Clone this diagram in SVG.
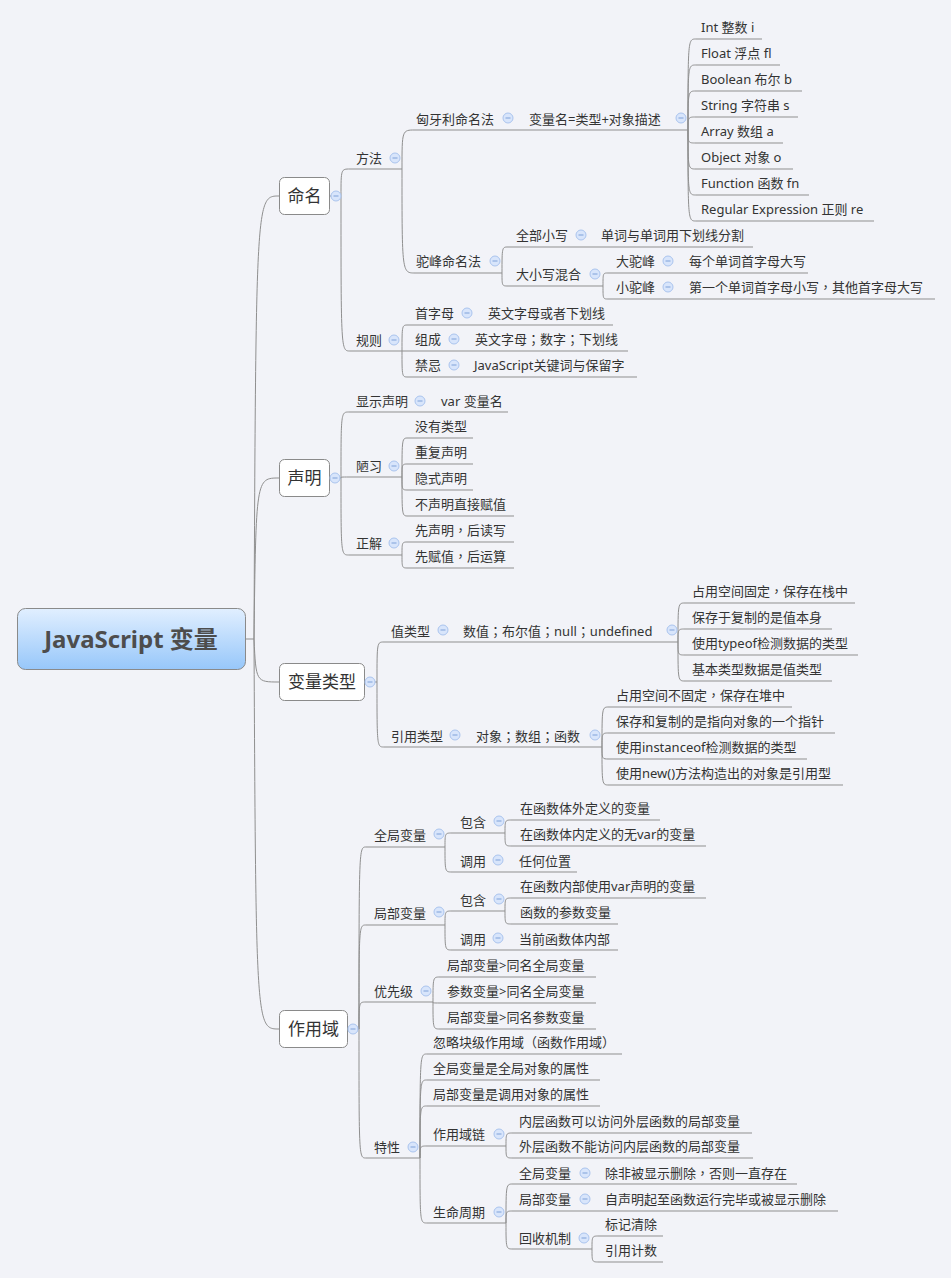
<svg xmlns="http://www.w3.org/2000/svg" width="951" height="1278" viewBox="0 0 951 1278">
<defs>
<linearGradient id="rg" x1="0" y1="0" x2="0" y2="1"><stop offset="0" stop-color="#e1efff"/><stop offset="1" stop-color="#97c7fa"/></linearGradient>
<g id="ic"><circle r="5" fill="#d8e5fb" stroke="#aac4ee" stroke-width="1"/><line x1="-2.5" y1="0" x2="2.5" y2="0" stroke="#7ea1d8" stroke-width="1"/></g>
</defs>
<style>
text{font-family:"Noto Sans","Noto Sans CJK SC",sans-serif;font-size:13px;fill:#333}
.p{font-family:"Noto Sans CJK TC",sans-serif}
.m{font-size:17px;text-anchor:middle}
.r{font-size:24px;font-weight:bold;fill:#4d4d4d;text-anchor:middle}
.u,.c path{stroke:#8f8f8f;stroke-width:1;fill:none}
.b{fill:#fff;stroke:#8a8a8a;stroke-width:1}
</style>
<rect width="951" height="1278" fill="#f2f3f8"/>
<g id="connectors" class="c">
<path d="M246 639H254C256 196 256 196 279 196"/>
<path d="M254 639C256 478 256 478 279 478"/>
<path d="M254 639C256 682 256 682 279 682"/>
<path d="M254 639C256 1029 256 1029 279 1029"/>
<path d="M329 196H341"/>
<path d="M341 196C341 169 341 169 350 169"/>
<path d="M341 196C341 351 341 351 350 351"/>
<path d="M402 169C402 130 402 130 415 130"/>
<path d="M402 169C402 273 402 273 415 273"/>
<path d="M688 130C688 39 688 39 696 39"/>
<path d="M688 130C688 65 688 65 696 65"/>
<path d="M688 130C688 91 688 91 696 91"/>
<path d="M688 130C688 117 688 117 696 117"/>
<path d="M688 130C688 143 688 143 696 143"/>
<path d="M688 130C688 169 688 169 696 169"/>
<path d="M688 130C688 195 688 195 696 195"/>
<path d="M688 130C688 221 688 221 696 221"/>
<path d="M502 273C502 247 502 247 508 247"/>
<path d="M502 273C502 286 502 286 508 286"/>
<path d="M603 286C603 273 603 273 608 273"/>
<path d="M603 286C603 299 603 299 608 299"/>
<path d="M402 351C402 325 402 325 408 325"/>
<path d="M402 351H408"/>
<path d="M402 351C402 377 402 377 408 377"/>
<path d="M329 478H341"/>
<path d="M341 478C341 412 341 412 349 412"/>
<path d="M341 478C341 477 341 477 349 477"/>
<path d="M341 478C341 555 341 555 349 555"/>
<path d="M402 477C402 438 402 438 408 438"/>
<path d="M402 477C402 464 402 464 408 464"/>
<path d="M402 477C402 490 402 490 408 490"/>
<path d="M402 477C402 516 402 516 408 516"/>
<path d="M402 555C402 542 402 542 408 542"/>
<path d="M402 555C402 568 402 568 408 568"/>
<path d="M364 682H377"/>
<path d="M377 682C377 642 377 642 384 642"/>
<path d="M377 682C377 747 377 747 384 747"/>
<path d="M678 642C678 603 678 603 685 603"/>
<path d="M678 642C678 629 678 629 685 629"/>
<path d="M678 642C678 655 678 655 685 655"/>
<path d="M678 642C678 681 678 681 685 681"/>
<path d="M602 747C602 707 602 707 609 707"/>
<path d="M602 747C602 733 602 733 609 733"/>
<path d="M602 747C602 759 602 759 609 759"/>
<path d="M602 747C602 785 602 785 609 785"/>
<path d="M347 1029H359"/>
<path d="M359 1029C359 847 359 847 366 847"/>
<path d="M359 1029C359 925 359 925 366 925"/>
<path d="M359 1029C359 1002 359 1002 366 1002"/>
<path d="M359 1029C359 1158 359 1158 366 1158"/>
<path d="M445 847C445 833 445 833 452 833"/>
<path d="M445 847C445 872 445 872 452 872"/>
<path d="M505 833C505 820 505 820 512 820"/>
<path d="M505 833C505 846 505 846 512 846"/>
<path d="M445 925C445 911 445 911 452 911"/>
<path d="M445 925C445 950 445 950 452 950"/>
<path d="M505 911C505 898 505 898 512 898"/>
<path d="M505 911C505 924 505 924 512 924"/>
<path d="M433 1002C433 977 433 977 440 977"/>
<path d="M433 1002C433 1003 433 1003 440 1003"/>
<path d="M433 1002C433 1029 433 1029 440 1029"/>
<path d="M420 1158C420 1054 420 1054 427 1054"/>
<path d="M420 1158C420 1080 420 1080 427 1080"/>
<path d="M420 1158C420 1106 420 1106 427 1106"/>
<path d="M420 1158C420 1146 420 1146 427 1146"/>
<path d="M420 1158C420 1223 420 1223 427 1223"/>
<path d="M506 1146C506 1133 506 1133 513 1133"/>
<path d="M506 1146C506 1158 506 1158 513 1158"/>
<path d="M506 1223C506 1184 506 1184 513 1184"/>
<path d="M506 1223C506 1211 506 1211 513 1211"/>
<path d="M506 1223C506 1249 506 1249 513 1249"/>
<path d="M592 1249C592 1236 592 1236 599 1236"/>
<path d="M592 1249C592 1262 592 1262 599 1262"/>
</g>

<g id="n-root"><rect x="17.5" y="608.5" width="228" height="61" rx="8" fill="url(#rg)" stroke="#8a8a8a"/><text class="r" x="131" y="648">JavaScript 变量</text></g>

<g id="n-naming"><rect class="b" x="279.5" y="177.5" width="50" height="37" rx="5"/><text class="m" x="304.5" y="202">命名</text><use href="#ic" x="336" y="196"/></g>
<g id="n-method"><path class="u" d="M350 169H402"/><text x="356" y="163">方法</text><use href="#ic" x="395" y="158"/></g>
<g id="n-hungarian"><path class="u" d="M415 130H520"/><text x="416" y="124">匈牙利命名法</text><use href="#ic" x="508" y="118"/></g>
<g id="n-hung-rule"><path class="u" d="M520 130H688"/><text x="529" y="124">变量名=类型+对象描述</text><use href="#ic" x="681" y="118"/></g>
<g id="n-int"><path class="u" d="M696 39H762"/><text x="701" y="32">Int 整数 i</text></g>
<g id="n-float"><path class="u" d="M696 65H780"/><text x="701" y="58">Float 浮点 fl</text></g>
<g id="n-bool"><path class="u" d="M696 91H802"/><text x="701" y="84">Boolean 布尔 b</text></g>
<g id="n-string"><path class="u" d="M696 117H798"/><text x="701" y="110">String 字符串 s</text></g>
<g id="n-array"><path class="u" d="M696 143H783"/><text x="701" y="136">Array 数组 a</text></g>
<g id="n-object"><path class="u" d="M696 169H793"/><text x="701" y="162">Object 对象 o</text></g>
<g id="n-function"><path class="u" d="M696 195H809"/><text x="701" y="188">Function 函数 fn</text></g>
<g id="n-regexp"><path class="u" d="M696 221H874"/><text x="701" y="214">Regular Expression 正则 re</text></g>
<g id="n-camel"><path class="u" d="M415 273H502"/><text x="416" y="266">驼峰命名法</text><use href="#ic" x="495" y="261"/></g>
<g id="n-lower"><path class="u" d="M508 247H593"/><text x="516" y="240">全部小写</text><use href="#ic" x="581" y="235"/></g>
<g id="n-lower-d"><path class="u" d="M593 247H753"/><text x="601" y="240">单词与单词用下划线分割</text></g>
<g id="n-mixed"><path class="u" d="M508 286H603"/><text x="516" y="279">大小写混合</text><use href="#ic" x="595" y="274"/></g>
<g id="n-big"><path class="u" d="M608 273H680"/><text x="616" y="266">大驼峰</text><use href="#ic" x="668" y="261"/></g>
<g id="n-big-d"><path class="u" d="M680 273H808"/><text x="689" y="266">每个单词首字母大写</text></g>
<g id="n-small"><path class="u" d="M608 299H680"/><text x="616" y="292">小驼峰</text><use href="#ic" x="668" y="287"/></g>
<g id="n-small-d"><path class="u" d="M680 299H935"/><text x="689" y="292">第一个单词首字母小写<tspan class="p">，</tspan>其他首字母大写</text></g>
<g id="n-rules"><path class="u" d="M350 351H402"/><text x="356" y="345">规则</text><use href="#ic" x="394" y="340"/></g>
<g id="n-first"><path class="u" d="M408 325H479"/><text x="415" y="318">首字母</text><use href="#ic" x="467" y="313"/></g>
<g id="n-first-d"><path class="u" d="M479 325H613"/><text x="488" y="318">英文字母或者下划线</text></g>
<g id="n-compose"><path class="u" d="M408 351H466"/><text x="415" y="344">组成</text><use href="#ic" x="454" y="339"/></g>
<g id="n-compose-d"><path class="u" d="M466 351H628"/><text x="475" y="344">英文字母<tspan class="p">；</tspan>数字<tspan class="p">；</tspan>下划线</text></g>
<g id="n-taboo"><path class="u" d="M408 377H466"/><text x="415" y="370">禁忌</text><use href="#ic" x="454" y="365"/></g>
<g id="n-taboo-d"><path class="u" d="M466 377H637"/><text x="474" y="370">JavaScript关键词与保留字</text></g>

<g id="n-declare"><rect class="b" x="279.5" y="459.5" width="50" height="37" rx="5"/><text class="m" x="304.5" y="484">声明</text><use href="#ic" x="335" y="478"/></g>
<g id="n-explicit"><path class="u" d="M349 412H432"/><text x="356" y="406">显示声明</text><use href="#ic" x="420" y="401"/></g>
<g id="n-explicit-d"><path class="u" d="M432 412H508"/><text x="441" y="406">var 变量名</text></g>
<g id="n-bad"><path class="u" d="M349 477H402"/><text x="356" y="471">陋习</text><use href="#ic" x="394" y="466"/></g>
<g id="n-bad1"><path class="u" d="M408 438H473"/><text x="415" y="431">没有类型</text></g>
<g id="n-bad2"><path class="u" d="M408 464H473"/><text x="415" y="457">重复声明</text></g>
<g id="n-bad3"><path class="u" d="M408 490H473"/><text x="415" y="483">隐式声明</text></g>
<g id="n-bad4"><path class="u" d="M408 516H514"/><text x="415" y="509">不声明直接赋值</text></g>
<g id="n-good"><path class="u" d="M349 555H402"/><text x="356" y="548">正解</text><use href="#ic" x="394" y="543"/></g>
<g id="n-good1"><path class="u" d="M408 542H514"/><text x="415" y="535">先声明<tspan class="p">，</tspan>后读写</text></g>
<g id="n-good2"><path class="u" d="M408 568H514"/><text x="415" y="561">先赋值<tspan class="p">，</tspan>后运算</text></g>

<g id="n-types"><rect class="b" x="279.5" y="663.5" width="85" height="37" rx="5"/><text class="m" x="322" y="688">变量类型</text><use href="#ic" x="370" y="682"/></g>
<g id="n-value"><path class="u" d="M384 642H455"/><text x="391" y="636">值类型</text><use href="#ic" x="443" y="630"/></g>
<g id="n-value-d"><path class="u" d="M455 642H678"/><text x="463" y="636">数值<tspan class="p">；</tspan>布尔值<tspan class="p">；</tspan>null<tspan class="p">；</tspan>undefined</text><use href="#ic" x="672" y="630"/></g>
<g id="n-v1"><path class="u" d="M685 603H855"/><text x="692" y="596">占用空间固定<tspan class="p">，</tspan>保存在栈中</text></g>
<g id="n-v2"><path class="u" d="M685 629H832"/><text x="692" y="622">保存于复制的是值本身</text></g>
<g id="n-v3"><path class="u" d="M685 655H858"/><text x="692" y="648">使用typeof检测数据的类型</text></g>
<g id="n-v4"><path class="u" d="M685 681H832"/><text x="692" y="674">基本类型数据是值类型</text></g>
<g id="n-ref"><path class="u" d="M384 747H467"/><text x="391" y="741">引用类型</text><use href="#ic" x="455" y="735"/></g>
<g id="n-ref-d"><path class="u" d="M467 747H602"/><text x="476" y="741">对象<tspan class="p">；</tspan>数组<tspan class="p">；</tspan>函数</text><use href="#ic" x="595" y="735"/></g>
<g id="n-r1"><path class="u" d="M609 707H792"/><text x="616" y="700">占用空间不固定<tspan class="p">，</tspan>保存在堆中</text></g>
<g id="n-r2"><path class="u" d="M609 733H835"/><text x="616" y="726">保存和复制的是指向对象的一个指针</text></g>
<g id="n-r3"><path class="u" d="M609 759H807"/><text x="616" y="752">使用instanceof检测数据的类型</text></g>
<g id="n-r4"><path class="u" d="M609 785H843"/><text x="616" y="778">使用new()方法构造出的对象是引用型</text></g>

<g id="n-scope"><rect class="b" x="279.5" y="1010.5" width="68" height="37" rx="5"/><text class="m" x="313.5" y="1035">作用域</text><use href="#ic" x="353" y="1029"/></g>
<g id="n-global"><path class="u" d="M366 847H445"/><text x="374" y="840">全局变量</text><use href="#ic" x="439" y="834"/></g>
<g id="n-g-inc"><path class="u" d="M452 833H505"/><text x="460" y="827">包含</text><use href="#ic" x="499" y="821"/></g>
<g id="n-g-inc1"><path class="u" d="M512 820H660"/><text x="520" y="813">在函数体外定义的变量</text></g>
<g id="n-g-inc2"><path class="u" d="M512 846H706"/><text x="520" y="839">在函数体内定义的无var的变量</text></g>
<g id="n-g-call"><path class="u" d="M452 872H510"/><text x="460" y="866">调用</text><use href="#ic" x="498" y="860"/></g>
<g id="n-g-call-d"><path class="u" d="M510 872H577"/><text x="519" y="866">任何位置</text></g>
<g id="n-local"><path class="u" d="M366 925H445"/><text x="374" y="918">局部变量</text><use href="#ic" x="439" y="912"/></g>
<g id="n-l-inc"><path class="u" d="M452 911H505"/><text x="460" y="905">包含</text><use href="#ic" x="499" y="899"/></g>
<g id="n-l-inc1"><path class="u" d="M512 898H706"/><text x="520" y="891">在函数内部使用var声明的变量</text></g>
<g id="n-l-inc2"><path class="u" d="M512 924H618"/><text x="520" y="917">函数的参数变量</text></g>
<g id="n-l-call"><path class="u" d="M452 950H510"/><text x="460" y="944">调用</text><use href="#ic" x="498" y="938"/></g>
<g id="n-l-call-d"><path class="u" d="M510 950H618"/><text x="519" y="944">当前函数体内部</text></g>
<g id="n-prio"><path class="u" d="M366 1002H433"/><text x="374" y="996">优先级</text><use href="#ic" x="426" y="991"/></g>
<g id="n-p1"><path class="u" d="M440 977H596"/><text x="447" y="970">局部变量&gt;同名全局变量</text></g>
<g id="n-p2"><path class="u" d="M440 1003H596"/><text x="447" y="996">参数变量&gt;同名全局变量</text></g>
<g id="n-p3"><path class="u" d="M440 1029H596"/><text x="447" y="1022">局部变量&gt;同名参数变量</text></g>
<g id="n-feat"><path class="u" d="M366 1158H420"/><text x="374" y="1152">特性</text><use href="#ic" x="413" y="1147"/></g>
<g id="n-f1"><path class="u" d="M427 1054H622"/><text x="433" y="1047">忽略块级作用域<tspan class="p">（</tspan>函数作用域<tspan class="p">）</tspan></text></g>
<g id="n-f2"><path class="u" d="M427 1080H600"/><text x="433" y="1073">全局变量是全局对象的属性</text></g>
<g id="n-f3"><path class="u" d="M427 1106H600"/><text x="433" y="1099">局部变量是调用对象的属性</text></g>
<g id="n-chain"><path class="u" d="M427 1146H506"/><text x="433" y="1139">作用域链</text><use href="#ic" x="499" y="1134"/></g>
<g id="n-c1"><path class="u" d="M513 1133H752"/><text x="519" y="1126">内层函数可以访问外层函数的局部变量</text></g>
<g id="n-c2"><path class="u" d="M513 1158H753"/><text x="519" y="1151">外层函数不能访问内层函数的局部变量</text></g>
<g id="n-life"><path class="u" d="M427 1223H506"/><text x="433" y="1217">生命周期</text><use href="#ic" x="499" y="1212"/></g>
<g id="n-life-g"><path class="u" d="M513 1184H597"/><text x="519" y="1178">全局变量</text><use href="#ic" x="585" y="1173"/></g>
<g id="n-life-g-d"><path class="u" d="M597 1184H797"/><text x="605" y="1178">除非被显示删除<tspan class="p">，</tspan>否则一直存在</text></g>
<g id="n-life-l"><path class="u" d="M513 1211H597"/><text x="519" y="1204">局部变量</text><use href="#ic" x="585" y="1199"/></g>
<g id="n-life-l-d"><path class="u" d="M597 1211H838"/><text x="605" y="1204">自声明起至函数运行完毕或被显示删除</text></g>
<g id="n-gc"><path class="u" d="M513 1249H592"/><text x="519" y="1243">回收机制</text><use href="#ic" x="584" y="1238"/></g>
<g id="n-gc1"><path class="u" d="M599 1236H663"/><text x="605" y="1229">标记清除</text></g>
<g id="n-gc2"><path class="u" d="M599 1262H663"/><text x="605" y="1255">引用计数</text></g>
</svg>
